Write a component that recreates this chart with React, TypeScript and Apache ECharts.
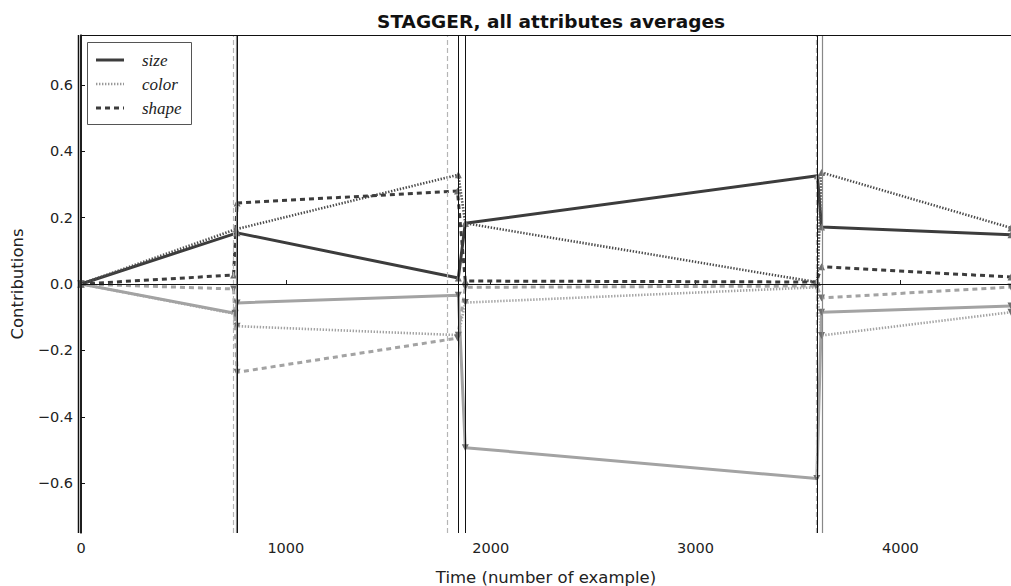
import React, { useEffect, useRef } from "react";
import * as echarts from "echarts";

const TITLE = "STAGGER, all attributes averages";
const X_NAME = "Time (number of example)";
const Y_NAME = "Contributions";
const Y_TICKS = [-0.6, -0.4, -0.2, 0, 0.2, 0.4, 0.6];
const LEGEND_NAMES = ["size", "color", "shape"];

// [time, contribution]
const sizeDark = [[0, 0], [762, 0.154], [1842, 0.018], [1876, 0.183], [3595, 0.326], [3615, 0.172], [4540, 0.148]];
const colorDark = [[0, 0], [757, 0.165], [1842, 0.329], [1876, 0.183], [3595, 0.005], [3615, 0.336], [4540, 0.169]];
const shapeDark = [[0, 0], [745, 0.027], [762, 0.244], [1838, 0.28], [1876, 0.009], [3590, 0.006], [3615, 0.052], [4540, 0.021]];
const sizeLight = [[0, 0], [752, -0.088], [762, -0.057], [1842, -0.034], [1876, -0.493], [3592, -0.586], [3615, -0.085], [4540, -0.066]];
const colorLight = [[0, 0], [752, -0.09], [762, -0.127], [1842, -0.154], [1876, -0.056], [3592, -0.01], [3615, -0.155], [4540, -0.085]];
const shapeLight = [[0, 0], [745, -0.015], [762, -0.266], [1838, -0.163], [1876, -0.01], [3592, -0.006], [3615, -0.042], [4540, -0.009]];

// drift markers
const driftDashed = [742, 1790, 3590];
const driftSolid = [0, 762, 1842, 1876, 3595];
const driftGray = [757, 3617];

const DARK = "#3c3c3c";
const LIGHT = "#a3a3a3";
const MARK = "#6e6e6e";

export default function App() {
  const ref = useRef<HTMLDivElement>(null);
  useEffect(() => {
    const chart = echarts.init(ref.current!, undefined, { renderer: "svg" });
    const font = "DejaVu Sans";
    const mk = (name: string, data: number[][], color: string, type: any, width: number, up: boolean, z: number) => ({
      name,
      type: "line",
      data,
      z,
      symbol: "triangle",
      symbolSize: 7,
      symbolRotate: up ? 0 : 180,
      itemStyle: { color: MARK },
      lineStyle: { color, type, width, cap: "butt" },
      silent: true,
    });
    const dotted = [1.4, 1.6];
    const dashed = [5, 4];
    chart.setOption({
      animation: false,
      title: {
        text: TITLE,
        left: 546,
        textAlign: "center",
        top: 7,
        textStyle: { fontFamily: font, fontSize: 18.5, fontWeight: "bold", color: "#111" },
      },
      grid: { left: 81, right: 0, top: 35, bottom: 53, outerBoundsMode: "none", containLabel: false },
      xAxis: {
        type: "value",
        min: 0,
        max: 4540,
        interval: 1000,
        name: X_NAME,
        nameLocation: "middle",
        nameGap: 36,
        nameTextStyle: { fontFamily: font, fontSize: 16.5, color: "#222" },
        axisLine: { show: true, lineStyle: { color: "#666", width: 1 } },
        axisTick: { show: true, inside: true, length: 4, lineStyle: { color: "#222" } },
        axisLabel: { fontFamily: font, fontSize: 14.5, color: "#222", margin: 7, showMaxLabel: false, formatter: (v: number) => String(v) },
        splitLine: { show: false },
      },
      yAxis: {
        type: "value",
        min: -0.75,
        max: 0.75,
        name: Y_NAME,
        nameLocation: "middle",
        nameGap: 55,
        nameTextStyle: { fontFamily: font, fontSize: 16.5, color: "#222" },
        axisLine: { show: true, lineStyle: { color: "#111", width: 1.5 } },
        axisTick: { show: true, inside: true, length: 4, customValues: Y_TICKS, lineStyle: { color: "#111" } },
        axisLabel: {
          fontFamily: font,
          fontSize: 14.5,
          color: "#222",
          margin: 8,
          customValues: Y_TICKS,
          formatter: (v: number) => v.toFixed(1).replace("-", "\u2212"),
        },
        splitLine: { show: false },
      },
      graphic: [
        { type: "line", shape: { x1: 81, y1: 35.5, x2: 1011, y2: 35.5 }, style: { stroke: "#111", lineWidth: 1 }, z: 50 },
        { type: "line", shape: { x1: 78.5, y1: 35, x2: 78.5, y2: 533 }, style: { stroke: "#111", lineWidth: 1.5 }, z: 50 },
        { type: "rect", shape: { x: 87.5, y: 42.5, width: 104, height: 82 }, style: { fill: "#fff", stroke: "#555", lineWidth: 1 }, z: 100 },
        { type: "line", shape: { x1: 96, y1: 60, x2: 124, y2: 60 }, style: { stroke: DARK, lineWidth: 3 }, z: 101 },
        { type: "line", shape: { x1: 96, y1: 84, x2: 124, y2: 84 }, style: { stroke: "#999", lineWidth: 2.4, lineDash: dotted }, z: 101 },
        { type: "line", shape: { x1: 96, y1: 108, x2: 124, y2: 108 }, style: { stroke: DARK, lineWidth: 3, lineDash: dashed }, z: 101 },
        ...LEGEND_NAMES.map((n, i) => ({
          type: "text",
          x: 142,
          y: 60 + i * 24,
          z: 101,
          style: { text: n, font: "italic 17px 'Liberation Serif'", fill: "#222", textVerticalAlign: "middle" },
        })),
      ],
      series: [
        {
          type: "line",
          data: [],
          silent: true,
          z: 1,
          markLine: {
            silent: true,
            symbol: "none",
            label: { show: false },
            animation: false,
            data: [
              ...driftDashed.map((x) => ({ xAxis: x, lineStyle: { color: "#b5b5b5", type: [5, 3], width: 1.2 } })),
              ...driftGray.map((x) => ({ xAxis: x, lineStyle: { color: "#888", type: "solid", width: 1.2 } })),
              ...driftSolid.map((x) => ({ xAxis: x, lineStyle: { color: "#111", type: "solid", width: x === 0 ? 1.5 : 1 } })),
              { yAxis: 0, lineStyle: { color: "#111", type: "solid", width: 1 } },
            ],
          },
        },
        mk("size-l", sizeLight, LIGHT, "solid", 3, false, 2),
        mk("color-l", colorLight, LIGHT, dotted, 2.6, false, 2),
        mk("shape-l", shapeLight, LIGHT, dashed, 3, false, 2),
        mk("size", sizeDark, DARK, "solid", 3, true, 3),
        mk("color", colorDark, "#4a4a4a", dotted, 2.6, true, 3),
        mk("shape", shapeDark, DARK, dashed, 3, true, 3),
      ],
    });
    return () => chart.dispose();
  }, []);
  return <div ref={ref} style={{ width: 1011, height: 586, position: "absolute", left: 0, top: 0 }} />;
}
